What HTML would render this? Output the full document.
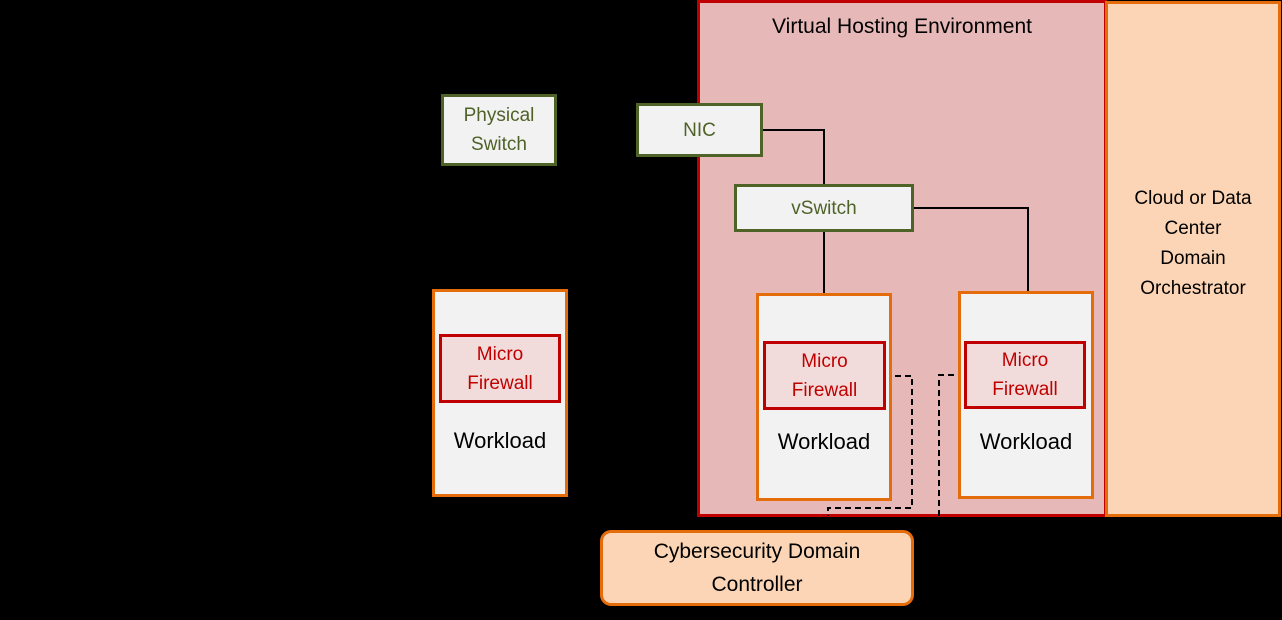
<!DOCTYPE html>
<html><head><meta charset="utf-8"><style>
body{margin:0;width:1282px;height:620px;background:#000;position:relative;overflow:hidden;font-family:"Liberation Sans",sans-serif}
.b{position:absolute;box-sizing:border-box;display:flex;align-items:center;justify-content:center;text-align:center}
.g{border:3px solid #4f6228;background:#f2f2f2;color:#4f6228;font-size:19px;line-height:29px}
.w{border:3px solid #e46c0a;background:#f2f2f2;color:#000;font-size:22px}
.m{border:3px solid #c00000;background:#f2dcdb;color:#c00000;font-size:19px;line-height:29px}
.wl{position:absolute;width:100%;text-align:center;left:0;font-size:22px}
</style></head><body>
<div class="b" style="left:697px;top:0;width:410px;height:517px;border:3px solid #c00000;background:#e6b8b7;align-items:flex-start;padding-top:12px;font-size:21px;color:#000">Virtual Hosting Environment</div>
<div class="b" style="left:1105px;top:1px;width:176px;height:516px;border:3px solid #e46c0a;background:#fbd5b5;font-size:19px;line-height:30px;padding-bottom:30px">Cloud or Data<br>Center<br>Domain<br>Orchestrator</div>
<svg style="position:absolute;left:0;top:0" width="1282" height="620">
<g stroke="#000" stroke-width="2" fill="none">
<path d="M762 130H824V184M824 231V293M913 208H1028V291"/>
<path d="M885 376H912V508H828V516M964 375H939V516" stroke-dasharray="6,4"/>
</g></svg>
<div class="b g" style="left:441px;top:94px;width:116px;height:72px">Physical<br>Switch</div>
<div class="b g" style="left:636px;top:103px;width:127px;height:54px">NIC</div>
<div class="b g" style="left:734px;top:184px;width:180px;height:48px">vSwitch</div>

<div class="b w" style="left:432px;top:289px;width:136px;height:208px"><span class="wl" style="top:136px">Workload</span></div>
<div class="b m" style="left:439px;top:334px;width:122px;height:69px">Micro<br>Firewall</div>

<div class="b w" style="left:756px;top:293px;width:136px;height:208px"><span class="wl" style="top:133px">Workload</span></div>
<div class="b m" style="left:763px;top:341px;width:123px;height:69px">Micro<br>Firewall</div>

<div class="b w" style="left:958px;top:291px;width:136px;height:208px"><span class="wl" style="top:135px">Workload</span></div>
<div class="b m" style="left:964px;top:341px;width:122px;height:68px">Micro<br>Firewall</div>

<div class="b" style="left:600px;top:530px;width:314px;height:76px;border:3px solid #e46c0a;border-radius:11px;background:#fbd5b5;font-size:21px;line-height:33px">Cybersecurity Domain<br>Controller</div>
</body></html>
